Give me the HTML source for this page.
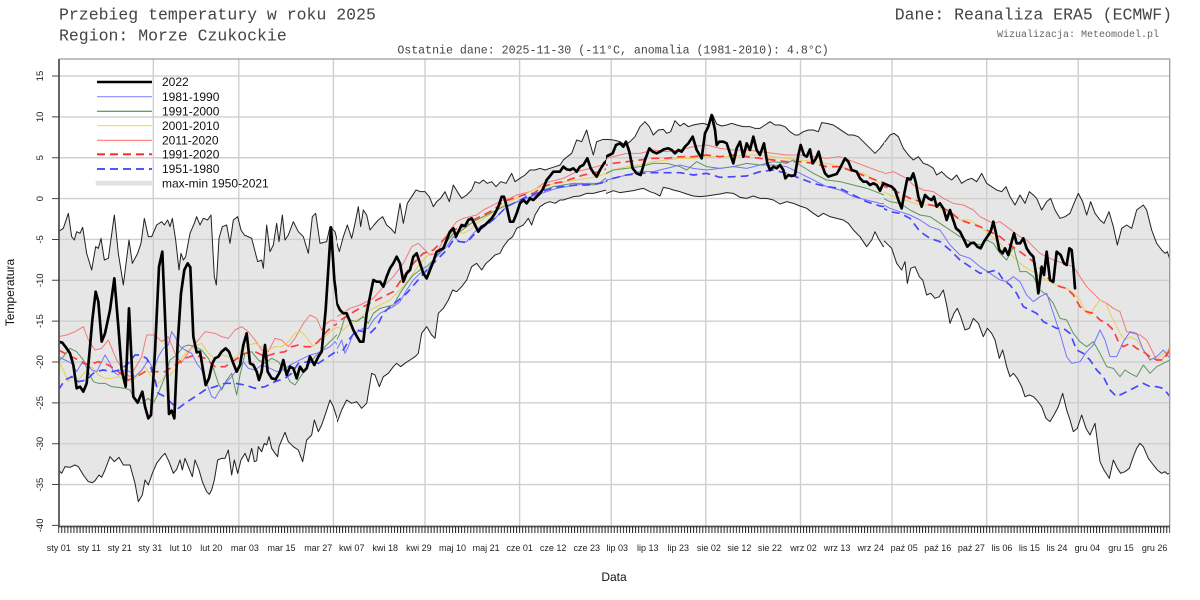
<!DOCTYPE html>
<html><head><meta charset="utf-8"><style>
html,body{margin:0;padding:0;background:#fff;}
svg{display:block;}
.mono{font-family:"Liberation Mono","DejaVu Sans Mono",monospace;}
.sans{font-family:"Liberation Sans","DejaVu Sans",sans-serif;}
</style></head><body>
<svg width="1200" height="600" viewBox="0 0 1200 600" xmlns="http://www.w3.org/2000/svg">
<defs>
<clipPath id="f5"><rect x="58.7" y="55" width="279" height="475"/></clipPath>
<clipPath id="f6"><rect x="336.5" y="55" width="270" height="475"/></clipPath>
<clipPath id="f7"><rect x="605.5" y="55" width="279" height="475"/></clipPath>
<clipPath id="f8"><rect x="883.5" y="55" width="286.5" height="475"/></clipPath>
<clipPath id="c5"><rect x="58.7" y="55" width="278.3" height="475"/></clipPath>
<clipPath id="c6"><rect x="337" y="55" width="269" height="475"/></clipPath>
<clipPath id="c7"><rect x="606" y="55" width="278" height="475"/></clipPath>
<clipPath id="c8"><rect x="884" y="55" width="286" height="475"/></clipPath>
<pattern id="tk" x="58.2" y="526" width="3.0525" height="8" patternUnits="userSpaceOnUse"><rect x="0" y="0" width="1" height="8" fill="#222"/></pattern>
</defs>

<!-- titles -->
<text class="mono" x="59" y="19.5" font-size="16.5" fill="#444">Przebieg temperatury w roku 2025</text>
<text class="mono" x="59" y="40.5" font-size="16.5" fill="#444">Region: Morze Czukockie</text>
<text class="mono" x="1172" y="19.5" font-size="16.5" fill="#444" text-anchor="end">Dane: Reanaliza ERA5 (ECMWF)</text>
<text class="mono" x="1159" y="37" font-size="10" fill="#666" text-anchor="end">Wizualizacja: Meteomodel.pl</text>
<text class="mono" x="613" y="53.5" font-size="11.6" fill="#444" text-anchor="middle">Ostatnie dane: 2025-11-30 (-11°C, anomalia (1981-2010): 4.8°C)</text>

<!-- band fills -->
<g fill="#e6e6e6" stroke="none">
<g clip-path="url(#f5)"><g transform="translate(55,190) scale(0.333333)">
<polygon points="10,125 25,115 40,70 50,140 58,150 65,125 75,130 83,112 95,190 110,240 122,170 130,175 138,145 148,210 160,205 178,75 190,190 205,285 222,150 232,220 248,190 258,160 268,85 280,140 290,140 305,105 320,95 328,105 338,90 345,110 352,85 362,150 372,240 378,190 385,210 392,200 405,130 418,100 425,80 435,105 445,85 458,90 468,75 478,260 484,285 492,145 502,110 515,105 525,160 535,90 548,80 558,120 568,135 590,145 608,215 620,210 625,235 635,105 645,185 655,165 665,100 672,155 682,75 690,150 700,135 715,95 730,125 745,140 760,190 772,80 782,70 795,160 815,155 825,110 840,125 855,185 865,140 870,130 870,625 865,630 858,665 848,690 835,650 825,630 812,670 800,705 790,725 778,690 770,735 755,750 743,815 730,780 715,770 700,755 690,727 672,770 668,800 660,790 650,775 642,740 635,765 628,760 620,785 610,770 605,812 598,815 590,775 580,815 570,790 558,810 548,850 538,810 530,855 520,780 510,805 500,805 488,810 478,870 470,900 463,913 455,905 442,875 432,840 420,810 412,860 400,830 390,805 382,840 375,810 365,838 355,850 342,815 330,790 320,800 305,820 292,850 280,885 270,870 262,915 250,935 240,880 225,825 205,825 192,802 178,815 165,800 150,840 140,862 132,855 120,872 112,878 100,875 85,855 70,830 60,825 45,832 30,830 20,850 10,840"/>
</g></g>
<g clip-path="url(#f6)"><g transform="translate(330,100) scale(0.333333)">
<polygon points="0,400 15,410 28,455 40,410 52,375 65,415 75,370 85,320 92,380 100,330 110,345 120,390 132,375 145,360 158,350 170,375 182,385 195,400 210,310 220,370 232,310 245,290 258,270 272,275 285,275 298,290 310,320 320,305 332,295 345,275 358,305 370,255 382,275 395,295 410,285 425,270 435,245 448,250 460,240 472,250 485,245 498,260 512,245 528,250 545,220 555,245 570,235 585,225 600,210 615,210 630,205 645,210 660,205 675,200 690,195 700,180 712,170 725,160 740,120 755,125 770,90 780,130 790,165 800,125 820,118 840,120 860,125 870,130 870,270 850,265 830,270 810,275 790,280 770,280 750,288 730,290 715,295 700,300 690,300 675,310 660,305 645,310 630,320 615,345 605,375 595,355 580,375 570,380 560,385 548,410 535,420 520,440 510,460 495,465 480,480 468,490 455,510 440,490 425,500 410,540 395,560 380,575 368,570 355,600 340,625 325,640 315,715 305,705 290,680 275,700 265,760 255,770 240,780 225,790 212,800 200,790 190,800 175,820 160,830 148,860 135,825 125,820 110,910 95,925 80,905 65,910 50,900 35,930 22,965 12,940 0,900"/>
</g></g>
<g clip-path="url(#f7)"><g transform="translate(600,100) scale(0.333333)">
<polygon points="0,120 20,118 40,120 60,125 75,135 90,125 105,110 120,80 135,65 148,80 160,105 175,90 190,88 200,100 212,95 225,62 240,78 252,70 265,80 280,75 295,72 310,70 325,75 338,45 350,72 365,78 380,75 395,70 410,75 430,80 450,80 465,85 480,85 495,75 510,65 525,75 540,75 555,80 570,95 585,105 595,105 610,95 625,90 640,90 655,95 665,68 680,70 700,75 715,85 730,95 745,105 760,105 775,110 790,125 810,145 825,160 840,145 855,125 870,120 870,430 850,440 835,415 825,395 815,420 800,440 780,410 760,390 745,370 730,360 710,355 690,350 670,340 655,350 640,340 620,325 600,318 580,310 560,305 540,312 520,300 500,295 480,295 460,288 440,295 420,292 400,280 380,278 360,282 340,285 320,288 300,290 280,288 260,282 240,275 220,270 205,265 190,262 180,288 165,280 150,275 130,265 115,268 100,272 80,275 60,278 40,272 20,280 0,285"/>
</g></g>
<g clip-path="url(#f8)"><g transform="translate(880,120) scale(0.333333)">
<polygon points="0,70 15,65 30,45 42,40 55,50 70,85 85,105 100,120 115,110 130,130 145,135 160,145 170,165 185,155 200,170 215,180 230,165 245,190 260,180 275,175 290,185 305,160 320,190 335,200 350,210 365,215 378,200 390,230 405,255 420,225 435,250 448,215 460,225 470,235 485,270 500,245 512,235 525,270 540,295 555,290 570,280 582,250 595,220 608,245 620,285 632,245 645,280 660,300 672,310 687,275 700,320 712,375 725,325 740,315 755,325 770,270 790,255 800,270 815,330 830,370 845,390 855,400 862,395 870,420 870,1060 862,1062 855,1055 845,1060 832,1050 820,1035 805,1015 790,980 780,970 770,985 760,1010 748,1045 735,1055 722,1060 712,1045 700,1020 688,1075 672,1050 660,1025 645,910 630,945 618,925 605,885 592,925 580,935 570,900 560,870 548,820 535,860 522,885 510,905 498,895 485,860 470,840 460,830 448,825 435,830 425,800 412,775 400,760 390,770 380,740 368,690 358,715 345,660 335,640 322,625 310,650 295,610 280,595 268,625 255,630 242,590 232,565 222,580 210,610 200,555 190,510 178,530 165,535 152,520 140,525 128,480 118,470 105,440 92,445 82,490 75,425 65,450 50,430 35,385 15,365 0,355"/>
</g></g>
</g>

<!-- grid -->
<g stroke="#cfcfcf" stroke-width="1.4" fill="none">
<path d="M59 76.05H1170M59 116.9H1170M59 157.75H1170M59 198.6H1170M59 239.45H1170M59 280.3H1170M59 321.15H1170M59 362H1170M59 402.85H1170M59 443.7H1170M59 484.55H1170"/>
<path d="M153.3 59V526M238.8 59V526M333.4 59V526M425 59V526M519.6 59V526M611.2 59V526M705.8 59V526M800.5 59V526M892 59V526M986.7 59V526M1078.2 59V526"/>
</g>

<!-- series -->
<g fill="none" stroke-linejoin="round" stroke-linecap="round">
<!-- segment 5 -->
<g clip-path="url(#c5)"><g transform="translate(55,190) scale(0.333333)">
<polyline stroke="#222" stroke-width="3" points="10,125 25,115 40,70 50,140 58,150 65,125 75,130 83,112 95,190 110,240 122,170 130,175 138,145 148,210 160,205 178,75 190,190 205,285 222,150 232,220 248,190 258,160 268,85 280,140 290,140 305,105 320,95 328,105 338,90 345,110 352,85 362,150 372,240 378,190 385,210 392,200 405,130 418,100 425,80 435,105 445,85 458,90 468,75 478,260 484,285 492,145 502,110 515,105 525,160 535,90 548,80 558,120 568,135 590,145 608,215 620,210 625,235 635,105 645,185 655,165 665,100 672,155 682,75 690,150 700,135 715,95 730,125 745,140 760,190 772,80 782,70 795,160 815,155 825,110 840,125 855,185 865,140 870,130"/>
<polyline stroke="#222" stroke-width="3" points="10,840 20,850 30,830 45,832 60,825 70,830 85,855 100,875 112,878 120,872 132,855 140,862 150,840 165,800 178,815 192,802 205,825 225,825 240,880 250,935 262,915 270,870 280,885 292,850 305,820 320,800 330,790 342,815 355,850 365,838 375,810 382,840 390,805 400,830 412,860 420,810 432,840 442,875 455,905 463,913 470,900 478,870 488,810 500,805 510,805 520,780 530,855 538,810 548,850 558,810 570,790 580,815 590,775 598,815 605,812 610,770 620,785 628,760 635,765 642,740 650,775 660,790 668,800 672,770 690,727 700,755 715,770 730,780 743,815 755,750 770,735 778,690 790,725 800,705 812,670 825,630 835,650 848,690 858,665 865,630 870,625"/>
<polyline stroke="#f27a7a" stroke-width="3" points="10,440 35,435 60,425 85,410 100,450 120,480 140,475 160,450 185,510 210,550 225,560 240,535 260,500 275,435 300,435 320,455 340,440 360,490 378,520 395,495 412,470 430,450 450,425 480,430 500,440 520,445 540,420 560,410 580,425 600,450 620,480 640,485 660,445 680,450 700,470 720,445 745,400 765,375 785,385 800,420 815,400 830,390 850,395 870,385"/>
<polyline stroke="#e8cf55" stroke-width="3" points="10,510 25,540 40,575 55,555 70,570 90,545 110,530 130,555 150,565 170,565 190,560 210,570 230,575 250,555 270,530 290,560 310,580 330,560 345,555 360,540 380,505 400,480 420,470 440,460 460,490 480,505 500,495 520,500 540,505 560,480 580,465 600,460 620,470 640,480 660,470 680,470 700,455 720,430 740,425 760,450 775,470 790,450 810,440 830,420 850,410 870,415"/>
<polyline stroke="#5a975a" stroke-width="3" points="10,515 25,500 45,475 65,485 85,510 100,545 115,575 130,580 150,580 170,590 190,592 210,595 225,600 240,630 260,640 280,625 295,640 310,610 330,560 345,510 365,495 385,470 400,465 420,470 440,480 460,505 475,535 490,580 500,600 515,570 530,550 545,615 555,555 570,490 590,485 610,510 630,520 650,505 670,515 690,545 705,575 720,585 740,555 760,525 780,500 800,480 820,460 840,440 860,420 870,415"/>
<polyline stroke="#7474ff" stroke-width="3" points="10,500 30,510 50,520 65,545 80,520 100,525 110,540 125,545 140,515 150,495 165,520 175,545 190,555 205,540 225,545 240,560 260,540 280,510 295,540 310,500 325,475 340,465 350,425 360,440 375,470 390,480 410,490 425,520 440,540 455,580 470,620 480,625 495,600 510,580 530,560 550,535 565,515 580,535 600,540 620,525 645,535 665,545 685,540 705,525 725,515 745,505 765,495 785,490 805,480 825,470 840,455 855,475 870,480"/>
<polyline stroke="#ff3b3b" stroke-width="5" stroke-dasharray="24,15" stroke-linecap="butt" points="10,480 40,495 70,510 100,525 130,515 160,525 190,545 220,570 245,560 270,545 300,545 330,545 360,525 390,505 420,495 450,505 480,530 510,530 540,510 570,490 600,485 630,500 660,490 690,485 710,470 730,465 750,470 770,470 790,455 810,430 830,410 850,400 870,390"/>
<polyline stroke="#4646ff" stroke-width="5" stroke-dasharray="24,15" stroke-linecap="butt" points="10,600 30,570 50,560 70,575 95,570 120,545 145,540 170,545 195,540 220,520 240,495 255,495 275,505 295,550 310,610 330,620 350,640 370,655 390,640 420,620 450,600 480,590 510,580 540,580 570,585 600,595 630,590 660,575 690,565 710,550 730,520 760,515 790,520 820,500 850,480 870,475"/>
<polyline stroke="#000" stroke-width="8" points="10,455 22,458 35,475 45,490 55,525 65,595 75,590 85,605 95,580 105,470 112,390 122,305 130,335 140,455 150,430 165,360 178,265 190,410 200,540 212,590 222,355 235,620 248,638 262,605 270,650 280,685 288,675 300,485 312,230 322,185 330,380 342,672 350,662 358,685 368,460 378,310 388,240 398,220 406,232 415,440 425,487 435,485 445,545 452,585 462,565 472,520 480,505 490,500 500,485 512,475 522,485 535,520 545,545 555,525 565,465 575,430 585,520 595,525 605,545 612,570 620,545 630,465 638,545 650,565 662,568 675,545 685,510 695,555 705,530 715,535 725,565 735,530 745,545 755,535 765,500 778,525 790,500 800,485 812,360 822,205 828,112 838,270 848,345 858,360 870,370"/>
</g></g>

<!-- segment 6 -->
<g clip-path="url(#c6)"><g transform="translate(330,100) scale(0.333333)">
<polyline stroke="#222" stroke-width="3" points="0,400 15,410 28,455 40,410 52,375 65,415 75,370 85,320 92,380 100,330 110,345 120,390 132,375 145,360 158,350 170,375 182,385 195,400 210,310 220,370 232,310 245,290 258,270 272,275 285,275 298,290 310,320 320,305 332,295 345,275 358,305 370,255 382,275 395,295 410,285 425,270 435,245 448,250 460,240 472,250 485,245 498,260 512,245 528,250 545,220 555,245 570,235 585,225 600,210 615,210 630,205 645,210 660,205 675,200 690,195 700,180 712,170 725,160 740,120 755,125 770,90 780,130 790,165 800,125 820,118 840,120 860,125 870,130"/>
<polyline stroke="#222" stroke-width="3" points="0,900 12,940 22,965 35,930 50,900 65,910 80,905 95,925 110,910 125,820 135,825 148,860 160,830 175,820 190,800 200,790 212,800 225,790 240,780 255,770 265,760 275,700 290,680 305,705 315,715 325,640 340,625 355,600 368,570 380,575 395,560 410,540 425,500 440,490 455,510 468,490 480,480 495,465 510,460 520,440 535,420 548,410 560,385 570,380 580,375 595,355 605,375 615,345 630,320 645,310 660,305 675,310 690,300 700,300 715,295 730,290 750,288 770,280 790,280 810,275 830,270 850,265 870,270"/>
<polyline stroke="#f27a7a" stroke-width="3" points="0,660 30,645 60,625 90,615 110,605 130,595 160,560 190,530 220,490 245,440 265,430 285,450 300,465 320,460 340,420 360,390 380,365 400,355 420,350 440,345 460,330 480,320 500,310 520,300 540,295 560,285 580,280 600,275 620,265 640,250 660,245 680,240 700,235 720,225 740,215 760,210 780,205 800,200 820,195 840,185 870,180"/>
<polyline stroke="#e8cf55" stroke-width="3" points="0,670 20,680 40,690 60,670 90,655 120,630 150,615 180,600 210,570 240,535 270,490 300,460 320,460 340,440 360,415 380,395 400,400 420,390 440,370 470,350 500,330 530,310 560,295 590,280 620,265 650,255 680,250 710,245 740,240 770,235 800,230 830,220 870,205"/>
<polyline stroke="#5a975a" stroke-width="3" points="0,720 15,730 30,700 45,650 60,660 80,665 100,650 115,670 130,640 150,625 170,620 190,615 210,580 230,550 250,525 270,510 290,500 310,480 330,455 350,425 370,400 390,395 410,380 430,365 450,355 470,345 500,330 520,320 550,310 580,300 610,285 640,270 670,260 700,255 730,250 760,250 790,255 810,248 840,225 870,210"/>
<polyline stroke="#7474ff" stroke-width="3" points="0,760 15,755 25,740 35,720 45,760 55,740 70,700 85,695 100,685 115,685 130,660 150,640 170,630 190,620 210,605 230,570 250,540 270,520 290,515 310,480 330,460 350,440 370,410 390,425 410,425 430,400 450,380 470,370 490,360 510,340 530,320 560,305 590,295 620,285 650,275 680,265 710,260 740,255 770,250 800,250 830,245 870,240"/>
<polyline stroke="#ff3b3b" stroke-width="5" stroke-dasharray="24,15" stroke-linecap="butt" points="0,680 40,655 80,630 120,610 160,590 190,575 220,530 250,490 280,460 310,450 340,420 370,390 400,380 430,360 460,345 490,330 520,305 550,295 580,285 610,280 640,260 670,250 700,245 730,235 760,225 790,220 820,210 850,200 870,195"/>
<polyline stroke="#4646ff" stroke-width="5" stroke-dasharray="24,15" stroke-linecap="butt" points="0,760 20,758 40,750 60,715 80,690 100,695 120,700 140,680 160,640 180,620 200,605 230,580 260,545 290,510 320,480 350,450 370,420 390,425 410,428 440,395 470,375 500,350 530,320 560,305 590,290 620,280 650,270 680,262 710,258 740,255 770,255 800,252 830,245 870,240"/>
<polyline stroke="#000" stroke-width="8" points="0,375 8,400 12,520 20,610 30,630 40,640 50,640 60,665 70,690 80,708 90,725 100,725 110,640 120,590 130,540 140,545 150,545 160,560 170,530 180,505 190,490 200,470 210,490 220,545 230,520 240,510 250,470 260,460 270,490 280,520 290,535 300,510 310,485 320,455 330,450 340,445 350,420 360,395 370,385 378,410 385,395 395,375 405,378 415,360 425,355 435,375 445,395 455,380 465,375 475,365 485,355 495,340 505,320 515,290 522,290 530,320 540,365 550,365 560,340 570,310 580,300 590,310 600,295 610,300 620,290 630,280 640,265 650,240 660,228 670,215 680,215 690,215 700,200 710,208 720,210 730,205 740,215 750,200 760,195 772,175 782,205 792,220 800,230 810,210 822,190 832,180 845,160 855,160 865,135 870,130"/>
</g></g>

<!-- segment 7 -->
<g clip-path="url(#c7)"><g transform="translate(600,100) scale(0.333333)">
<polyline stroke="#222" stroke-width="3" points="0,120 20,118 40,120 60,125 75,135 90,125 105,110 120,80 135,65 148,80 160,105 175,90 190,88 200,100 212,95 225,62 240,78 252,70 265,80 280,75 295,72 310,70 325,75 338,45 350,72 365,78 380,75 395,70 410,75 430,80 450,80 465,85 480,85 495,75 510,65 525,75 540,75 555,80 570,95 585,105 595,105 610,95 625,90 640,90 655,95 665,68 680,70 700,75 715,85 730,95 745,105 760,105 775,110 790,125 810,145 825,160 840,145 855,125 870,120"/>
<polyline stroke="#222" stroke-width="3" points="0,285 20,280 40,272 60,278 80,275 100,272 115,268 130,265 150,275 165,280 180,288 190,262 205,265 220,270 240,275 260,282 280,288 300,290 320,288 340,285 360,282 380,278 400,280 420,292 440,295 460,288 480,295 500,295 520,300 540,312 560,305 580,310 600,318 620,325 640,340 655,350 670,340 690,350 710,355 730,360 745,370 760,390 780,410 800,440 815,420 825,395 835,415 850,440 870,430"/>
<polyline stroke="#f27a7a" stroke-width="3" points="0,180 40,170 80,160 120,160 160,150 200,155 240,150 280,140 320,135 360,145 400,150 440,150 480,155 520,160 560,165 600,165 640,170 680,175 720,170 760,185 800,200 840,215 870,222"/>
<polyline stroke="#e8cf55" stroke-width="3" points="0,225 40,210 80,200 120,195 160,185 200,180 240,175 280,175 320,170 360,170 400,170 440,165 480,165 520,170 560,175 600,180 640,185 680,190 720,200 760,210 800,225 840,250 870,268"/>
<polyline stroke="#5a975a" stroke-width="3" points="0,230 40,210 80,205 120,200 160,190 200,190 240,200 260,210 290,185 320,200 360,205 400,200 440,190 480,195 520,185 560,190 580,180 600,195 640,220 680,240 720,245 760,255 800,265 840,280 870,292"/>
<polyline stroke="#7474ff" stroke-width="3" points="0,245 40,235 80,225 120,215 160,215 200,205 240,195 280,205 320,210 360,205 400,200 440,205 480,195 520,195 560,200 600,220 640,240 680,260 720,270 760,290 800,300 840,310 870,312"/>
<polyline stroke="#ff3b3b" stroke-width="5" stroke-dasharray="24,15" stroke-linecap="butt" points="0,200 40,190 80,185 120,180 160,175 200,175 240,170 280,170 320,165 360,170 400,165 440,170 480,175 520,180 560,185 600,185 640,190 680,200 720,200 760,215 800,230 840,245 870,252"/>
<polyline stroke="#4646ff" stroke-width="5" stroke-dasharray="24,15" stroke-linecap="butt" points="0,250 40,235 80,225 120,220 160,218 200,218 240,218 280,225 320,220 360,232 400,230 440,228 480,215 520,210 560,220 600,235 640,250 680,260 720,265 760,285 800,305 840,318 870,322"/>
<polyline stroke="#000" stroke-width="8" points="0,210 10,195 18,170 28,165 38,160 48,135 60,130 70,140 78,125 88,155 98,205 110,220 122,225 135,180 148,145 158,155 170,160 180,155 192,148 205,145 215,150 225,160 235,150 245,155 255,140 265,130 278,110 290,150 305,175 315,100 325,80 335,45 345,90 350,135 358,125 370,125 380,130 390,160 400,190 410,145 420,125 430,170 440,130 450,150 460,110 470,150 480,165 492,130 502,190 510,210 520,200 530,205 540,195 550,210 556,235 565,225 575,228 585,225 595,165 602,135 612,165 620,170 630,148 638,190 648,175 656,155 666,195 675,220 685,230 700,225 710,222 720,205 735,175 745,185 755,210 770,215 780,235 790,245 800,245 810,255 820,250 830,255 840,272 850,250 860,262 870,250"/>
</g></g>

<!-- segment 8 -->
<g clip-path="url(#c8)"><g transform="translate(880,120) scale(0.333333)">
<polyline stroke="#222" stroke-width="3" points="0,70 15,65 30,45 42,40 55,50 70,85 85,105 100,120 115,110 130,130 145,135 160,145 170,165 185,155 200,170 215,180 230,165 245,190 260,180 275,175 290,185 305,160 320,190 335,200 350,210 365,215 378,200 390,230 405,255 420,225 435,250 448,215 460,225 470,235 485,270 500,245 512,235 525,270 540,295 555,290 570,280 582,250 595,220 608,245 620,285 632,245 645,280 660,300 672,310 687,275 700,320 712,375 725,325 740,315 755,325 770,270 790,255 800,270 815,330 830,370 845,390 855,400 862,395 870,420"/>
<polyline stroke="#222" stroke-width="3" points="0,355 15,365 35,385 50,430 65,450 75,425 82,490 92,445 105,440 118,470 128,480 140,525 152,520 165,535 178,530 190,510 200,555 210,610 222,580 232,565 242,590 255,630 268,625 280,595 295,610 310,650 322,625 335,640 345,660 358,715 368,690 380,740 390,770 400,760 412,775 425,800 435,830 448,825 460,830 470,840 485,860 498,895 510,905 522,885 535,860 548,820 560,870 570,900 580,935 592,925 605,885 618,925 630,945 645,910 660,1025 672,1050 688,1075 700,1020 712,1045 722,1060 735,1055 748,1045 760,1010 770,985 780,970 790,980 805,1015 820,1035 832,1050 845,1060 855,1055 862,1062 870,1060"/>
<polyline stroke="#f27a7a" stroke-width="3" points="0,160 20,160 40,155 60,165 80,175 100,195 130,210 160,215 190,235 220,250 250,255 280,270 300,290 320,300 340,310 360,305 380,320 400,335 420,350 440,360 460,380 480,400 500,410 520,420 550,430 580,440 600,470 620,500 640,520 660,540 680,550 700,565 720,575 740,635 760,640 780,645 800,660 815,690 830,720 845,720 860,700 870,680"/>
<polyline stroke="#e8cf55" stroke-width="3" points="0,210 30,225 60,235 90,245 120,255 150,255 180,265 210,280 240,300 270,300 300,320 330,345 360,370 380,395 400,410 420,430 440,445 460,455 480,470 500,480 520,490 540,500 560,505 580,520 600,540 615,575 630,585 645,560 660,540 675,545 690,580 705,610 720,640 735,660 750,650 770,660 790,690 810,715 830,720 850,700 870,690"/>
<polyline stroke="#5a975a" stroke-width="3" points="0,230 30,245 60,250 90,270 120,285 150,290 180,310 210,330 240,350 270,365 300,375 320,360 340,370 360,400 380,420 400,380 420,455 440,455 460,470 480,510 500,525 520,550 540,595 560,600 580,640 600,665 620,680 640,665 660,700 680,740 700,745 720,770 735,750 750,760 770,770 790,735 810,760 830,740 850,730 870,720"/>
<polyline stroke="#7474ff" stroke-width="3" points="0,250 30,265 60,275 90,285 120,300 150,320 180,330 210,375 240,405 270,415 300,440 330,460 360,480 380,485 400,470 420,485 440,525 460,545 480,530 500,520 520,580 540,640 560,710 575,730 600,725 620,695 640,675 660,630 675,660 690,710 710,710 730,665 750,635 770,640 790,690 810,720 830,710 850,690 870,715"/>
<polyline stroke="#ff3b3b" stroke-width="5" stroke-dasharray="24,15" stroke-linecap="butt" points="0,195 30,205 60,220 90,235 120,245 150,255 180,260 210,275 240,300 270,310 300,320 330,335 360,350 390,375 420,395 440,410 460,425 480,445 500,470 520,490 540,500 560,505 580,525 600,560 620,575 640,580 660,600 680,610 700,630 715,665 730,680 750,670 770,685 790,695 810,710 830,720 850,720 870,690"/>
<polyline stroke="#4646ff" stroke-width="5" stroke-dasharray="24,15" stroke-linecap="butt" points="0,260 30,275 60,280 90,295 120,335 150,355 180,365 210,390 240,420 270,440 300,460 330,455 350,450 370,480 390,495 410,520 430,560 450,570 470,580 490,605 510,615 530,625 550,625 570,640 590,690 610,700 630,720 650,750 670,770 690,810 710,830 730,820 750,810 770,800 790,790 810,800 830,800 850,805 870,830"/>
<polyline stroke="#000" stroke-width="8" points="0,205 10,190 22,195 35,200 45,210 55,240 65,265 72,225 82,175 92,178 100,160 108,190 115,230 125,260 135,225 145,235 155,240 162,230 170,260 180,250 190,265 200,300 210,270 218,295 228,325 240,335 250,355 262,380 272,370 282,368 292,380 302,385 312,365 322,350 332,335 340,305 348,340 358,390 368,400 375,385 385,405 395,365 402,340 410,370 420,370 430,355 440,385 450,400 460,410 468,460 475,520 485,440 492,465 500,395 510,480 520,485 530,395 542,405 552,430 560,435 568,385 575,390 580,440 585,505"/>
</g></g>
</g>

<!-- plot frame -->
<path d="M59 59H1169.7V526" fill="none" stroke="#9a9a9a" stroke-width="1.3"/>
<path d="M59 59V526.5H1170" fill="none" stroke="#555" stroke-width="1.8"/>
<rect x="58.2" y="526.5" width="1112" height="6.5" fill="url(#tk)"/>

<!-- y ticks -->
<path d="M52 76.05H59M52 116.9H59M52 157.75H59M52 198.6H59M52 239.45H59M52 280.3H59M52 321.15H59M52 362H59M52 402.85H59M52 443.7H59M52 484.55H59M52 525.4H59" stroke="#444" stroke-width="1"/>
<g class="sans" font-size="9.5" fill="#222" text-anchor="middle">
<text transform="translate(43,76.05) rotate(-90)">15</text>
<text transform="translate(43,116.9) rotate(-90)">10</text>
<text transform="translate(43,157.75) rotate(-90)">5</text>
<text transform="translate(43,198.6) rotate(-90)">0</text>
<text transform="translate(43,239.45) rotate(-90)">-5</text>
<text transform="translate(43,280.3) rotate(-90)">-10</text>
<text transform="translate(43,321.15) rotate(-90)">-15</text>
<text transform="translate(43,362) rotate(-90)">-20</text>
<text transform="translate(43,402.85) rotate(-90)">-25</text>
<text transform="translate(43,443.7) rotate(-90)">-30</text>
<text transform="translate(43,484.55) rotate(-90)">-35</text>
<text transform="translate(43,525.4) rotate(-90)">-40</text>
</g>

<!-- x tick labels -->
<g class="sans" font-size="9" fill="#222" text-anchor="middle">
<text x="58.7" y="551">sty 01</text>
<text x="89.2" y="551">sty 11</text>
<text x="119.8" y="551">sty 21</text>
<text x="150.3" y="551">sty 31</text>
<text x="180.8" y="551">lut 10</text>
<text x="211.3" y="551">lut 20</text>
<text x="244.9" y="551">mar 03</text>
<text x="281.5" y="551">mar 15</text>
<text x="318.2" y="551">mar 27</text>
<text x="351.7" y="551">kwi 07</text>
<text x="385.3" y="551">kwi 18</text>
<text x="418.9" y="551">kwi 29</text>
<text x="452.5" y="551">maj 10</text>
<text x="486.1" y="551">maj 21</text>
<text x="519.6" y="551">cze 01</text>
<text x="553.2" y="551">cze 12</text>
<text x="586.8" y="551">cze 23</text>
<text x="617.3" y="551">lip 03</text>
<text x="647.8" y="551">lip 13</text>
<text x="678.3" y="551">lip 23</text>
<text x="708.9" y="551">sie 02</text>
<text x="739.4" y="551">sie 12</text>
<text x="769.9" y="551">sie 22</text>
<text x="803.5" y="551">wrz 02</text>
<text x="837.1" y="551">wrz 13</text>
<text x="870.7" y="551">wrz 24</text>
<text x="904.2" y="551">paź 05</text>
<text x="937.8" y="551">paź 16</text>
<text x="971.4" y="551">paź 27</text>
<text x="1001.9" y="551">lis 06</text>
<text x="1029.4" y="551">lis 15</text>
<text x="1056.9" y="551">lis 24</text>
<text x="1087.4" y="551">gru 04</text>
<text x="1121" y="551">gru 15</text>
<text x="1154.6" y="551">gru 26</text>
</g>

<!-- axis titles -->
<text class="sans" x="614" y="581" font-size="12" fill="#111" text-anchor="middle">Data</text>
<text class="sans" transform="translate(14,292.5) rotate(-90)" font-size="12" fill="#111" text-anchor="middle">Temperatura</text>

<!-- legend -->
<g fill="none">
<line x1="97" y1="82" x2="152" y2="82" stroke="#000" stroke-width="2.6"/>
<line x1="97" y1="96.7" x2="152" y2="96.7" stroke="#8c8cff" stroke-width="1.2"/>
<line x1="97" y1="111.3" x2="152" y2="111.3" stroke="#3d7a3d" stroke-width="1"/>
<line x1="97" y1="125.7" x2="152" y2="125.7" stroke="#f5d860" stroke-width="1.2"/>
<line x1="97" y1="140.3" x2="152" y2="140.3" stroke="#ff7777" stroke-width="1.2"/>
<line x1="97" y1="154.3" x2="152" y2="154.3" stroke="#ff2222" stroke-width="1.8" stroke-dasharray="8,5"/>
<line x1="97" y1="169" x2="152" y2="169" stroke="#3b3bff" stroke-width="1.8" stroke-dasharray="8,5"/>
<line x1="98" y1="183.3" x2="151" y2="183.3" stroke="#e3e3e3" stroke-width="5" stroke-linecap="round"/>
</g>
<g class="sans" font-size="12" fill="#111">
<text x="162" y="86.2">2022</text>
<text x="162" y="100.9">1981-1990</text>
<text x="162" y="115.5">1991-2000</text>
<text x="162" y="129.9">2001-2010</text>
<text x="162" y="144.5">2011-2020</text>
<text x="162" y="158.5">1991-2020</text>
<text x="162" y="173.2">1951-1980</text>
<text x="162" y="187.5">max-min 1950-2021</text>
</g>
</svg>
</body></html>
